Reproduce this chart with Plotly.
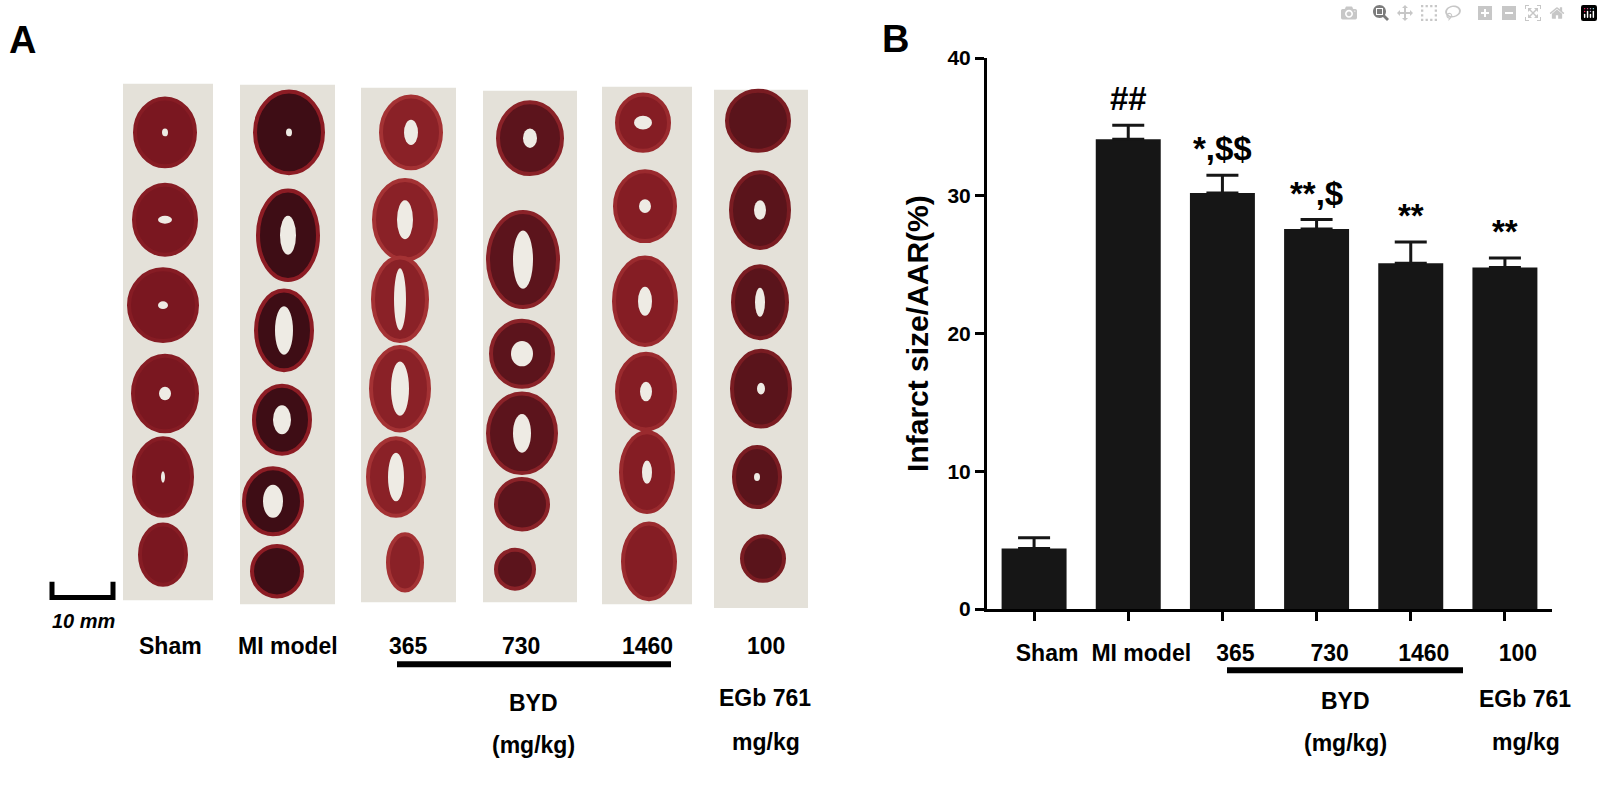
import plotly.graph_objects as go

W, H = 1603, 787
FONT = "Liberation Sans, Arial, sans-serif"
INK = "#161616"

# ---- panel B data: infarct size / AAR (%) ----
groups = ["Sham", "MI model", "365", "730", "1460", "100"]
infarct = [4.4, 34.1, 30.2, 27.6, 25.1, 24.8]
sem = [0.78, 1.03, 1.3, 0.68, 1.55, 0.68]
# "&#36;" = "$" (a plain pair of $ would be read as LaTeX)
marks = ["", "##", "*,&#36;&#36;", "**,&#36;", "**", "**"]
y_ticks = [0, 10, 20, 30, 40]

# ---- panel A: TTC stained slices (photo, pixel coords) ----
strip_left = [123, 240, 361, 483, 602, 714]
strip_right = [213, 335, 456, 577, 692, 808]
strip_top = [74, 75, 78, 81, 77, 80]
strip_bottom = [606, 610, 608, 608, 610, 614]

slice_x = [
    [165, 165, 163, 165, 163, 163],
    [289, 288, 284, 282, 273, 277],
    [411, 405, 400, 400, 396, 405],
    [530, 523, 522, 522, 522, 515],
    [643, 645, 645, 646, 647, 649],
    [758, 760, 760, 761, 757, 763],
]
slice_y = [
    [124, 214, 302, 393, 479, 559],
    [124, 230, 328, 420, 504, 576],
    [124, 214, 296, 388, 479, 567],
    [130, 255, 352, 434, 507, 574],
    [114, 200, 298, 391, 474, 566],
    [112, 204, 299, 388, 479, 563],
]
slice_w = [
    [60, 62, 68, 64, 58, 46],
    [68, 60, 56, 56, 58, 50],
    [60, 62, 54, 58, 56, 34],
    [64, 70, 62, 68, 52, 38],
    [52, 60, 62, 58, 52, 52],
    [62, 58, 54, 58, 46, 42],
]
slice_h = [
    [70, 72, 74, 78, 80, 62],
    [84, 92, 82, 70, 68, 52],
    [74, 82, 86, 86, 80, 58],
    [74, 98, 68, 82, 52, 40],
    [58, 72, 90, 78, 82, 78],
    [62, 78, 74, 78, 62, 46],
]
lumen_w = [
    [6, 14, 10, 12, 4, 0],
    [6, 16, 18, 18, 20, 0],
    [14, 16, 12, 18, 16, 0],
    [14, 20, 22, 18, 0, 0],
    [18, 12, 14, 12, 10, 0],
    [0, 12, 10, 8, 6, 0],
]
lumen_h = [
    [8, 8, 8, 14, 12, 0],
    [8, 40, 50, 30, 34, 0],
    [26, 40, 64, 56, 50, 0],
    [20, 60, 26, 40, 0, 0],
    [14, 14, 30, 20, 24, 0],
    [0, 20, 30, 12, 8, 0],
]
slice_fill = ["#7a1720", "#3e0d15", "#8a2127", "#5c141c", "#851d24", "#5a141b"]
slice_edge = ["#861c24", "#8c1c24", "#a43234", "#8a2228", "#9a2a2e", "#7a1c22"]

fig = go.Figure()

fig.add_trace(
    go.Bar(
        x=groups,
        y=infarct,
        width=0.69,
        marker=dict(color=INK, line=dict(width=0)),
        error_y=dict(
            type="data",
            array=sem,
            arrayminus=[0] * len(sem),
            symmetric=False,
            color=INK,
            thickness=3,
            width=16,
        ),
        xaxis="x2",
        yaxis="y2",
        hovertemplate="%{x}: %{y:.1f}%<extra></extra>",
    )
)

# significance marks above bars (x as category index: "365" etc. look numeric)
for i, (v, e, m) in enumerate(zip(infarct, sem, marks)):
    if m:
        fig.add_annotation(
            x=i, y=v + e, xref="x2", yref="y2", text=m, showarrow=False,
            yanchor="bottom", yshift=6,
            font=dict(family=FONT, size=33, color="black", weight="bold"),
        )

# panel A strips and slices
for i in range(len(groups)):
    fig.add_shape(
        type="rect", xref="x", yref="y",
        x0=strip_left[i], x1=strip_right[i], y0=strip_top[i], y1=strip_bottom[i],
        fillcolor="#e4e1d9", line=dict(width=0), layer="below",
    )
    for cx, cy, w, h, lw, lh in zip(slice_x[i], slice_y[i], slice_w[i], slice_h[i],
                                    lumen_w[i], lumen_h[i]):
        fig.add_shape(
            type="circle", xref="x", yref="y",
            x0=cx - w / 2, x1=cx + w / 2, y0=cy - h / 2, y1=cy + h / 2,
            fillcolor=slice_fill[i], line=dict(color=slice_edge[i], width=4),
        )
        if lw:
            fig.add_shape(
                type="circle", xref="x", yref="y",
                x0=cx - lw / 2, x1=cx + lw / 2, y0=cy - lh / 2, y1=cy + lh / 2,
                fillcolor="#eeebe4", line=dict(width=0),
            )

# scale bar
fig.add_shape(type="path", xref="x", yref="y",
              path="M 52 587 L 52 603 L 113 603 L 113 587",
              line=dict(color="black", width=5))


def txt(x, y, s, size=23, style="normal"):
    fig.add_annotation(
        x=x, y=y, xref="x", yref="y", text=s, showarrow=False,
        font=dict(family=FONT, size=size, color="black", weight="bold", style=style),
    )


txt(22, 29, "A", size=38)
txt(895, 28, "B", size=38)
txt(83, 627, "10 mm", size=20, style="italic")

# panel A labels
for x, s in zip([170, 288, 408, 521, 647, 766], groups):
    txt(x, 653, s)
fig.add_shape(type="line", xref="x", yref="y", x0=397, x1=671, y0=672, y1=672,
              line=dict(color="black", width=6))
txt(533, 712, "BYD")
txt(533, 755, "(mg/kg)")
txt(765, 707, "EGb 761")
txt(766, 752, "mg/kg")

# panel B labels below the axis
fig.add_shape(type="line", xref="x", yref="y", x0=1227, x1=1463, y0=678, y1=678,
              line=dict(color="black", width=6))
txt(1345, 710, "BYD")
txt(1345, 753, "(mg/kg)")
txt(1525, 708, "EGb 761")
txt(1526, 752, "mg/kg")

fig.update_layout(
    width=W,
    height=H,
    margin=dict(l=0, r=0, t=0, b=0),
    paper_bgcolor="white",
    plot_bgcolor="rgba(0,0,0,0)",
    showlegend=False,
    font=dict(family=FONT, color="black"),
    xaxis=dict(domain=[0, 1], range=[0, W], visible=False, fixedrange=True),
    yaxis=dict(domain=[0, 1], range=[H, 0], visible=False, fixedrange=True),
    xaxis2=dict(
        domain=[987 / W, 1552 / W], anchor="y2", type="category",
        range=[-0.5, 5.5], showline=True, linewidth=3, linecolor="black",
        ticks="outside", ticklen=9, tickwidth=3, tickcolor="black",
        tickfont=dict(size=23, weight="bold"), ticklabelshift=13,
        ticklabelstandoff=12, showgrid=False,
    ),
    yaxis2=dict(
        domain=[1 - 615 / H, 1 - 47.5 / H], anchor="x2", range=[0, 40],
        tickvals=y_ticks, showline=True, linewidth=3, linecolor="black",
        ticks="outside", ticklen=9, tickwidth=3, tickcolor="black",
        tickfont=dict(size=21, weight="bold"), showgrid=False, zeroline=False,
        title=dict(text="Infarct size/AAR(%)", font=dict(size=30, weight="bold"),
                   standoff=10),
    ),
)

fig.write_html("out.html", post_script="document.body.style.margin='0';")
